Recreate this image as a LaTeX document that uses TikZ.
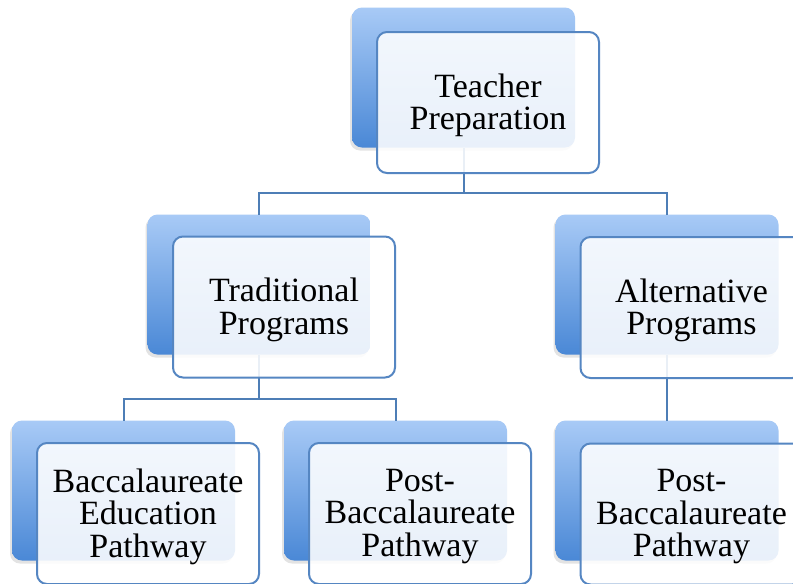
\documentclass[tikz,border=0pt]{standalone}
\usepackage{fontspec}
\setmainfont{Liberation Serif}
\usetikzlibrary{shadows}
\definecolor{bTop}{HTML}{A8CAF6}
\definecolor{bBot}{HTML}{4A88D6}
\definecolor{fBorder}{HTML}{5586C2}
\definecolor{conn}{HTML}{4E7EB6}
\tikzset{
  backbox/.style={rounded corners=10pt, minimum width=223pt, minimum height=140pt,
    inner sep=0pt, outer sep=0pt, top color=bTop, bottom color=bBot, draw=none,
    drop shadow={shadow xshift=-2pt, shadow yshift=-3pt, opacity=0.22}},
  frontbox/.style={rounded corners=10pt, minimum width=222pt, minimum height=141pt,
    inner sep=0pt, outer sep=0pt, draw=fBorder, line width=2pt,
    fill=white, fill opacity=0.88},
  boxtext/.style={align=center, inner sep=0pt, text=black,
    font=\fontsize{34}{32.5}\selectfont},
  connector/.style={draw=conn, line width=2pt}
}
\begin{document}
\begin{tikzpicture}[x=1pt,y=-1pt]
\useasboundingbox (0,0) rectangle (793,584);
\clip (0,0) rectangle (793,584);
\fill[white] (0,0) rectangle (793,584);
% back boxes
\node[backbox] (tpB) at (463.5,77.5) {};
\node[backbox] (trB) at (259,284.5) {};
\node[backbox] (alB) at (667,284.5) {};
\node[backbox] (baB) at (123.5,490.5) {};
\node[backbox] (pbB) at (395.5,490.5) {};
\node[backbox] (paB) at (667,490.5) {};
% connectors
\coordinate (bus1) at (463.5,193);
\coordinate (bus2) at (259,399);
\draw[connector] (tpB.south) -- (bus1) -| (trB.north);
\draw[connector] (bus1) -| (alB.north);
\draw[connector] (trB.south) -- (bus2) -| (baB.north);
\draw[connector] (bus2) -| (pbB.north);
\draw[connector] (alB.south) -- (paB.north);
% front boxes
\node[frontbox] (tp) at (488,102.5) {};
\node[frontbox] (tr) at (284,307) {};
\node[frontbox] (al) at (691.5,307.5) {};
\node[frontbox] (ba) at (148,513.5) {};
\node[frontbox] (pb) at (420,513.5) {};
\node[frontbox] (pa) at (691.5,514) {};
% texts
\node[boxtext] (tpT) at ([yshift=-3pt]tp.center) {Teacher\\Preparation};
\node[boxtext] (trT) at ([yshift=-3pt]tr.center) {Traditional\\Programs};
\node[boxtext] (alT) at ([yshift=-3pt]al.center) {Alternative\\Programs};
\node[boxtext] (baT) at ([yshift=-3pt]ba.center) {Baccalaureate\\Education\\Pathway};
\node[boxtext] (pbT) at ([yshift=-3pt]pb.center) {Post-\\Baccalaureate\\Pathway};
\node[boxtext] (paT) at ([yshift=-3pt]pa.center) {Post-\\Baccalaureate\\Pathway};
\end{tikzpicture}
\end{document}
